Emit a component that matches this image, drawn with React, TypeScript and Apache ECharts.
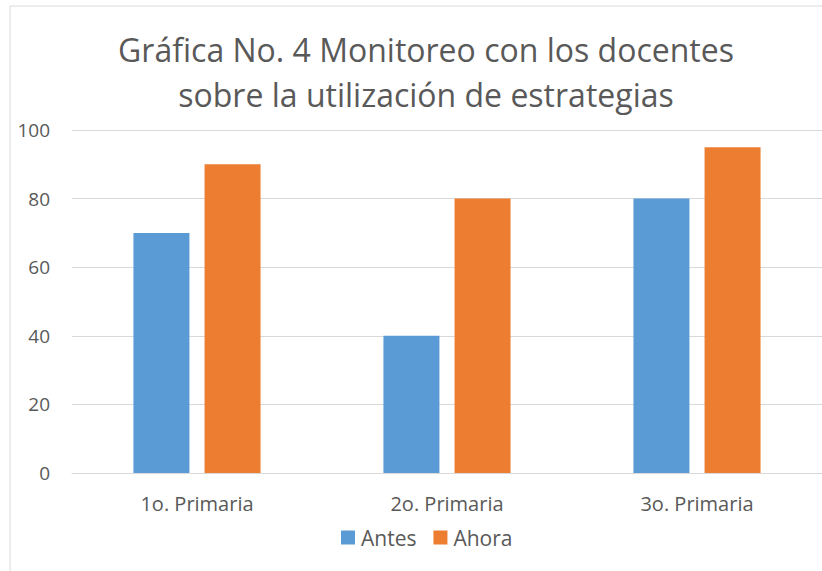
import React, { useEffect, useRef } from "react";
import * as echarts from "echarts";

const categories = ["1o. Primaria", "2o. Primaria", "3o. Primaria"];
const antes = [70, 40, 80];
const ahora = [90, 80, 95];
const titleText = "Gráfica No. 4 Monitoreo con los docentes\nsobre la utilización de estrategias";

const FONT = "'Open Sans', sans-serif";
const TXT = "#595959";

export default function App() {
  const ref = useRef<HTMLDivElement>(null);
  useEffect(() => {
    const chart = echarts.init(ref.current!, null, { renderer: "svg" });
    chart.setOption({
      animation: false,
      backgroundColor: "#ffffff",
      textStyle: { fontFamily: FONT },
      title: {
        text: titleText,
        left: 421,
        top: 22,
        textAlign: "center",
        textStyle: { fontFamily: FONT, fontSize: 32, fontWeight: "normal", color: TXT, lineHeight: 45 },
      },
      graphic: [
        {
          type: "rect",
          shape: { x: 10, y: 6, width: 830, height: 580 },
          style: { fill: "none", stroke: "#d9d9d9", lineWidth: 1 },
          silent: true,
        },
      ],
      legend: {
        data: ["Antes", "Ahora"],
        top: 522,
        left: 336,
        itemWidth: 14,
        itemHeight: 14,
        itemGap: 17,
        icon: "rect",
        textStyle: { fontFamily: FONT, fontSize: 21, color: TXT, padding: [0, 0, 0, 1] },
      },
      grid: { left: 72, right: 0, top: 130, bottom: 98, containLabel: false },
      xAxis: {
        type: "category",
        data: categories,
        axisLine: { show: true, lineStyle: { color: "#d9d9d9", width: 1 } },
        axisTick: { show: false },
        axisLabel: { fontFamily: FONT, fontSize: 20, color: TXT, margin: 20 },
      },
      yAxis: {
        type: "value",
        min: 0,
        max: 100,
        interval: 20,
        axisLine: { show: false },
        axisTick: { show: false },
        splitLine: { lineStyle: { color: "#d9d9d9", width: 1 } },
        axisLabel: { fontFamily: FONT, fontSize: 19, color: TXT, margin: 22 },
      },
      series: [
        {
          name: "Antes",
          type: "bar",
          data: antes,
          barWidth: 56,
          barGap: "27%",
          itemStyle: { color: "#5B9BD5" },
        },
        {
          name: "Ahora",
          type: "bar",
          data: ahora,
          barWidth: 56,
          barGap: "27%",
          itemStyle: { color: "#ED7D31" },
        },
      ],
    });
    return () => chart.dispose();
  }, []);
  return (
    <div
      ref={ref}
      style={{ position: "absolute", left: 0, top: 0, width: 822, height: 571 }}
    />
  );
}
